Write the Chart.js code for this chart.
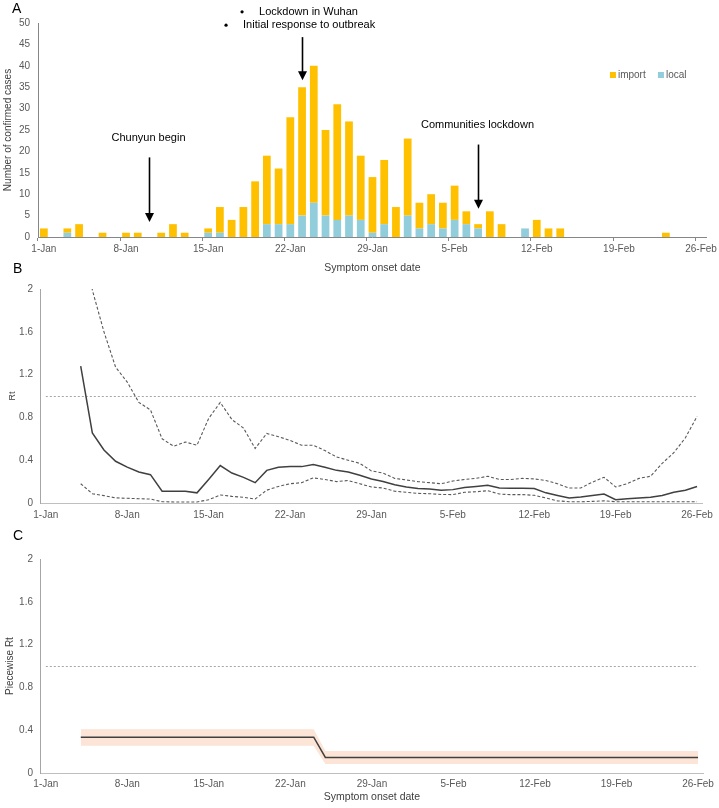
<!DOCTYPE html>
<html>
<head>
<meta charset="utf-8">
<script src="https://cdn.jsdelivr.net/npm/chart.js@4.4.1/dist/chart.umd.min.js"></script>
<style>
html,body{margin:0;padding:0;background:#ffffff;}
#wrap{position:relative;width:719px;height:808px;overflow:hidden;font-family:"Liberation Sans",Arial,sans-serif;}
canvas{position:absolute;left:0;}
.panel{position:absolute;font-size:14px;line-height:14px;color:#000;}
</style>
</head>
<body>
<div id="wrap">
  <canvas id="chartA" width="719" height="282" style="top:0px"></canvas>
  <canvas id="chartB" width="719" height="276" style="top:250px"></canvas>
  <canvas id="chartC" width="719" height="288" style="top:520px"></canvas>
  <div class="panel" style="left:12px;top:1px">A</div>
  <div class="panel" style="left:13px;top:261px">B</div>
  <div class="panel" style="left:13px;top:528px">C</div>
</div>
<script>
// ---------------- data ----------------
const categories = [
  '1-Jan','2-Jan','3-Jan','4-Jan','5-Jan','6-Jan','7-Jan',
  '8-Jan','9-Jan','10-Jan','11-Jan','12-Jan','13-Jan','14-Jan',
  '15-Jan','16-Jan','17-Jan','18-Jan','19-Jan','20-Jan','21-Jan',
  '22-Jan','23-Jan','24-Jan','25-Jan','26-Jan','27-Jan','28-Jan',
  '29-Jan','30-Jan','31-Jan','1-Feb','2-Feb','3-Feb','4-Feb',
  '5-Feb','6-Feb','7-Feb','8-Feb','9-Feb','10-Feb','11-Feb',
  '12-Feb','13-Feb','14-Feb','15-Feb','16-Feb','17-Feb','18-Feb',
  '19-Feb','20-Feb','21-Feb','22-Feb','23-Feb','24-Feb','25-Feb',
  '26-Feb'
];
const tickLabels = ['1-Jan','8-Jan','15-Jan','22-Jan','29-Jan','5-Feb','12-Feb','19-Feb','26-Feb'];

const importCases = [
  2,0,1,3,0,1,0,
  1,1,0,1,3,1,0,
  1,6,4,7,13,16,13,
  25,30,32,20,27,22,15,
  13,15,7,18,6,7,6,
  8,3,1,6,3,0,0,
  4,2,2,0,0,0,0,
  0,0,0,0,1,0,0,
  0
];
const localCases = [
  0,0,1,0,0,0,0,
  0,0,0,0,0,0,0,
  1,1,0,0,0,3,3,
  3,5,8,5,4,5,4,
  1,3,0,5,2,3,2,
  4,3,2,0,0,0,2,
  0,0,0,0,0,0,0,
  0,0,0,0,0,0,0,
  0
];

const rtMean = [
  null,null,null,1.28,0.655,0.495,0.39,
  0.335,0.29,0.265,0.11,0.11,0.11,0.095,
  0.22,0.35,0.28,0.24,0.19,0.305,0.335,
  0.34,0.34,0.36,0.335,0.305,0.29,0.26,
  0.225,0.20,0.17,0.15,0.135,0.13,0.12,
  0.125,0.145,0.155,0.165,0.14,0.137,0.137,
  0.135,0.095,0.07,0.047,0.056,0.069,0.084,
  0.031,0.04,0.047,0.053,0.07,0.10,0.12,
  0.155
];
const rtUpper = [
  null,null,null,3.6,1.99,1.6,1.27,
  1.13,0.94,0.87,0.60,0.53,0.57,0.54,
  0.79,0.94,0.78,0.70,0.51,0.65,0.62,
  0.585,0.54,0.54,0.49,0.43,0.40,0.37,
  0.30,0.28,0.23,0.215,0.20,0.19,0.18,
  0.205,0.22,0.23,0.25,0.22,0.22,0.23,
  0.225,0.21,0.18,0.14,0.14,0.195,0.24,
  0.15,0.18,0.23,0.25,0.37,0.47,0.61,
  0.81
];
const rtLower = [
  null,null,null,0.18,0.087,0.069,0.048,
  0.044,0.04,0.037,0.012,0.01,0.01,0.01,
  0.03,0.075,0.062,0.053,0.037,0.12,0.155,
  0.18,0.19,0.235,0.22,0.20,0.21,0.18,
  0.15,0.14,0.11,0.10,0.09,0.087,0.08,
  0.078,0.10,0.105,0.115,0.084,0.078,0.078,
  0.072,0.047,0.02,0.012,0.012,0.015,0.02,
  0.012,0.012,0.012,0.012,0.012,0.012,0.012,
  0.012
];

const pwMean = [
  null,null,null,0.335,0.335,0.335,0.335,
  0.335,0.335,0.335,0.335,0.335,0.335,0.335,
  0.335,0.335,0.335,0.335,0.335,0.335,0.335,
  0.335,0.335,0.335,0.145,0.145,0.145,0.145,
  0.145,0.145,0.145,0.145,0.145,0.145,0.145,
  0.145,0.145,0.145,0.145,0.145,0.145,0.145,
  0.145,0.145,0.145,0.145,0.145,0.145,0.145,
  0.145,0.145,0.145,0.145,0.145,0.145,0.145,
  0.145
];
const pwUpper = [
  null,null,null,0.41,0.41,0.41,0.41,
  0.41,0.41,0.41,0.41,0.41,0.41,0.41,
  0.41,0.41,0.41,0.41,0.41,0.41,0.41,
  0.41,0.41,0.41,0.205,0.205,0.205,0.205,
  0.205,0.205,0.205,0.205,0.205,0.205,0.205,
  0.205,0.205,0.205,0.205,0.205,0.205,0.205,
  0.205,0.205,0.205,0.205,0.205,0.205,0.205,
  0.205,0.205,0.205,0.205,0.205,0.205,0.205,
  0.205
];
const pwLower = [
  null,null,null,0.255,0.255,0.255,0.255,
  0.255,0.255,0.255,0.255,0.255,0.255,0.255,
  0.255,0.255,0.255,0.255,0.255,0.255,0.255,
  0.255,0.255,0.255,0.085,0.085,0.085,0.085,
  0.085,0.085,0.085,0.085,0.085,0.085,0.085,
  0.085,0.085,0.085,0.085,0.085,0.085,0.085,
  0.085,0.085,0.085,0.085,0.085,0.085,0.085,
  0.085,0.085,0.085,0.085,0.085,0.085,0.085,
  0.085
];
const thresholdRt = 1;

// ---------------- styling / helpers ----------------
const FONT = '"Liberation Sans", Arial, sans-serif';
Chart.defaults.font.family = FONT;
Chart.defaults.color = '#595959';
const TICK = '#595959';
const showTick = i => tickLabels.includes(categories[i]);
const xTickCb = (v, i) => showTick(i) ? categories[i] : '';
const yFmt = v => String(+Number(v).toFixed(1));

const thresholdPlugin = {
  id: 'threshold',
  beforeDatasetsDraw(chart) {
    const {ctx, scales: {x, y}} = chart;
    const yy = Math.round(y.getPixelForValue(thresholdRt)) + 0.5;
    const x0 = x.getPixelForValue(0), x1 = x.getPixelForValue(categories.length - 1);
    ctx.save();
    ctx.strokeStyle = '#A6A6A6'; ctx.lineWidth = 1; ctx.setLineDash([2, 2]);
    ctx.beginPath(); ctx.moveTo(x0, yy); ctx.lineTo(x1, yy); ctx.stroke();
    ctx.restore();
  }
};

// annotation configuration (in data units of panel A)
const arrowNotes = [
  {date: '23-Jan', from: 46.7, to: 36.6},
  {date: '10-Jan', from: 18.6, to: 3.5, text: 'Chunyun begin', textAt: 23.1, dx: -1},
  {date: '7-Feb', from: 21.6, to: 6.6, text: 'Communities lockdown', textAt: 26.2, dx: -1}
];
const bulletNotes = [
  {date: '23-Jan', text: 'Lockdown in Wuhan', at: 52.6, bullet: -60, textDx: -43},
  {date: '23-Jan', text: 'Initial response to outbreak', at: 49.5, bullet: -76, textDx: -59}
];

const annoPlugin = {
  id: 'annoA',
  afterDatasetsDraw(chart) {
    const {ctx, scales: {x, y}} = chart;
    ctx.save();
    ctx.fillStyle = '#000'; ctx.strokeStyle = '#000';
    ctx.font = '11px ' + FONT;
    ctx.textBaseline = 'middle';
    arrowNotes.forEach(a => {
      const px = Math.round(x.getPixelForValue(categories.indexOf(a.date))) + 0.5;
      const y0 = y.getPixelForValue(a.from), y1 = y.getPixelForValue(a.to);
      ctx.lineWidth = 1.6;
      ctx.beginPath(); ctx.moveTo(px, y0); ctx.lineTo(px, y1 - 7); ctx.stroke();
      ctx.beginPath(); ctx.moveTo(px - 4.5, y1 - 9); ctx.lineTo(px + 4.5, y1 - 9); ctx.lineTo(px, y1); ctx.closePath(); ctx.fill();
      if (a.text) {
        ctx.textAlign = 'center';
        ctx.fillText(a.text, px + a.dx, y.getPixelForValue(a.textAt));
      }
    });
    bulletNotes.forEach(b => {
      const px = x.getPixelForValue(categories.indexOf(b.date));
      const yy = y.getPixelForValue(b.at);
      ctx.textAlign = 'left';
      ctx.beginPath(); ctx.arc(px + b.bullet, yy, 1.6, 0, Math.PI * 2); ctx.fill();
      ctx.fillText(b.text, px + b.textDx, yy);
    });
    ctx.restore();
  }
};

const legendPlugin = {
  id: 'legendA',
  afterDraw(chart) {
    const {ctx, chartArea} = chart;
    const items = [{ds: 1, dx: -97}, {ds: 0, dx: -49}];
    ctx.save();
    ctx.font = '10px ' + FONT;
    ctx.textBaseline = 'middle'; ctx.textAlign = 'left';
    const yy = chartArea.top + 52;
    items.forEach(it => {
      const ds = chart.data.datasets[it.ds];
      const lx = chartArea.right + it.dx;
      ctx.fillStyle = ds.backgroundColor;
      ctx.fillRect(lx, yy - 3, 6, 6);
      ctx.fillStyle = TICK;
      ctx.fillText(ds.label, lx + 8, yy);
    });
    ctx.restore();
  }
};

const common = {
  responsive: false, animation: false, events: [],
  plugins: {legend: {display: false}, tooltip: {enabled: false}}
};

// ---------------- Panel A ----------------
new Chart(document.getElementById('chartA'), {
  type: 'bar',
  data: {
    labels: categories,
    datasets: [
      {label: 'local', data: localCases, backgroundColor: '#92CDDC', borderWidth: 0},
      {label: 'import', data: importCases, backgroundColor: '#FFC000', borderWidth: 0}
    ]
  },
  options: Object.assign({}, common, {
    layout: {padding: {top: 23, right: 10, left: 0, bottom: 0}},
    datasets: {bar: {categoryPercentage: 1, barPercentage: 0.66}},
    scales: {
      x: {
        stacked: true, offset: true,
        grid: {display: true, drawOnChartArea: false, drawTicks: true, tickLength: 4, offset: true,
               color: c => (c.index !== undefined && c.index < categories.length && showTick(c.index)) ? '#868686' : 'rgba(0,0,0,0)'},
        border: {display: true, color: '#868686', width: 1},
        ticks: {autoSkip: false, maxRotation: 0, padding: 2, color: TICK, font: {size: 10}, callback: xTickCb},
        title: {display: true, text: 'Symptom onset date', color: '#404040', font: {size: 10.5}, padding: {top: 0, bottom: 8}},
        afterFit: s => { s.height = 45; }
      },
      y: {
        stacked: true, min: 0, max: 50,
        grid: {display: false, drawTicks: false},
        border: {display: true, color: '#868686', width: 1},
        ticks: {stepSize: 5, padding: 8, color: TICK, font: {size: 10}},
        title: {display: true, text: 'Number of confirmed cases', color: '#404040', font: {size: 10}, padding: {top: 2, bottom: 0}},
        afterFit: s => { s.width = 38; }
      }
    }
  }),
  plugins: [annoPlugin, legendPlugin]
});

// ---------------- Panel B ----------------
new Chart(document.getElementById('chartB'), {
  type: 'line',
  data: {
    labels: categories,
    datasets: [
      {label: 'Rt', data: rtMean, borderColor: '#404040', borderWidth: 1.5, pointRadius: 0, fill: false, tension: 0},
      {label: 'upper', data: rtUpper, borderColor: '#595959', borderWidth: 1.1, borderDash: [3, 2], pointRadius: 0, fill: false, tension: 0},
      {label: 'lower', data: rtLower, borderColor: '#595959', borderWidth: 1.1, borderDash: [3, 2], pointRadius: 0, fill: false, tension: 0}
    ]
  },
  options: Object.assign({}, common, {
    layout: {padding: {top: 39, right: 11, left: 0, bottom: 0}},
    scales: {
      x: {
        offset: true,
        grid: {display: false, drawTicks: false},
        border: {display: true, color: '#BFBFBF', width: 1},
        ticks: {autoSkip: false, maxRotation: 0, padding: 6, color: TICK, font: {size: 10}, callback: xTickCb},
        afterFit: s => { s.height = 23; }
      },
      y: {
        min: 0, max: 2,
        grid: {display: false, drawTicks: false},
        border: {display: true, color: '#A6A6A6', width: 1},
        ticks: {stepSize: 0.4, padding: 7, color: TICK, font: {size: 10}, callback: yFmt},
        title: {display: true, text: 'Rt', color: '#404040', font: {size: 9}, padding: {top: 7.6, bottom: 0}},
        afterFit: s => { s.width = 40; }
      }
    }
  }),
  plugins: [thresholdPlugin]
});

// ---------------- Panel C ----------------
new Chart(document.getElementById('chartC'), {
  type: 'line',
  data: {
    labels: categories,
    datasets: [
      {label: 'Piecewise Rt', data: pwMean, borderColor: '#404040', borderWidth: 1.5, pointRadius: 0, fill: false, tension: 0},
      {label: 'upper', data: pwUpper, borderColor: 'rgba(0,0,0,0)', borderWidth: 0, pointRadius: 0, fill: '+1', backgroundColor: '#FCE4D6', tension: 0},
      {label: 'lower', data: pwLower, borderColor: 'rgba(0,0,0,0)', borderWidth: 0, pointRadius: 0, fill: false, tension: 0}
    ]
  },
  options: Object.assign({}, common, {
    layout: {padding: {top: 39, right: 11, left: 0, bottom: 0}},
    scales: {
      x: {
        offset: true,
        grid: {display: false, drawTicks: false},
        border: {display: true, color: '#BFBFBF', width: 1},
        ticks: {autoSkip: false, maxRotation: 0, padding: 5, color: TICK, font: {size: 10}, callback: xTickCb},
        title: {display: true, text: 'Symptom onset date', color: '#404040', font: {size: 10.5}, padding: {top: 0, bottom: 4.7}},
        afterFit: s => { s.height = 35; }
      },
      y: {
        min: 0, max: 2,
        grid: {display: false, drawTicks: false},
        border: {display: true, color: '#A6A6A6', width: 1},
        ticks: {stepSize: 0.4, padding: 7, color: TICK, font: {size: 10}, callback: yFmt},
        title: {display: true, text: 'Piecewise Rt', color: '#404040', font: {size: 10}, padding: {top: 4, bottom: 0}},
        afterFit: s => { s.width = 40; }
      }
    }
  }),
  plugins: [thresholdPlugin]
});
</script>
</body>
</html>
